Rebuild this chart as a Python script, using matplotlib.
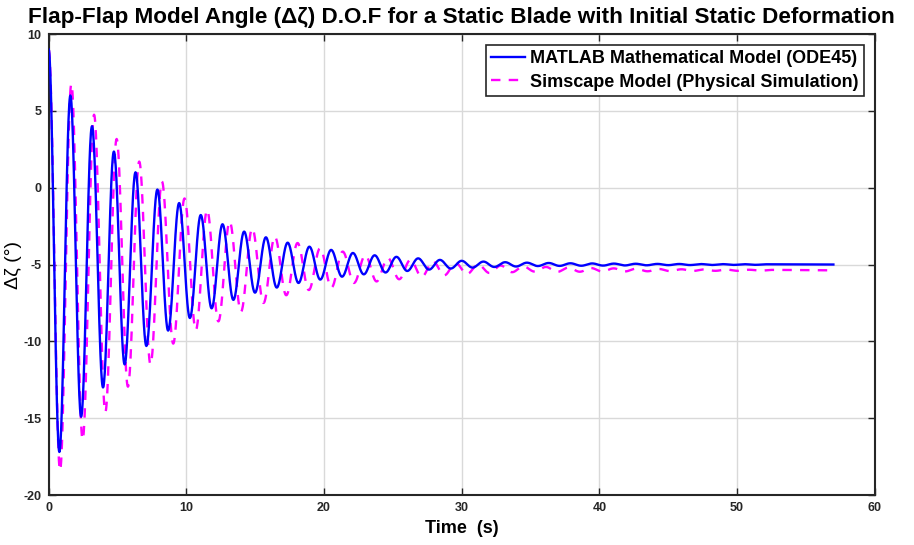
import numpy as np
import matplotlib
matplotlib.use("Agg")
import matplotlib.pyplot as plt

# ---- data: extrema (time s, angle deg) ----
matlab_t = [0.0, 0.78, 1.58, 2.36, 3.15, 3.95, 4.74, 5.52, 6.31, 7.10, 7.90, 8.68,
            9.48, 10.26, 11.05, 11.84, 12.63, 13.42, 14.20, 14.99, 15.78, 16.57,
            17.36, 18.15, 18.94, 19.73, 20.52, 21.31, 22.10, 22.89, 23.68, 24.47,
            25.26, 26.05, 26.84, 27.63, 28.42, 29.21, 30.00, 30.79, 31.58, 32.37,
            33.16, 33.95, 34.74, 35.53, 36.32, 37.11, 37.90, 38.69, 39.48, 40.27,
            41.06, 41.85, 42.64, 43.43, 44.22, 45.01, 45.80, 46.59, 47.38, 48.17,
            48.96, 49.75, 50.54, 51.33, 52.12, 57.0]
matlab_v = [9.0, -17.2, 6.0, -14.9, 4.0, -13.0, 2.35, -11.5, 1.0, -10.3, -0.12, -9.3,
            -1.0, -8.48, -1.78, -7.85, -2.38, -7.3, -2.86, -6.83, -3.23, -6.5,
            -3.58, -6.2, -3.84, -5.98, -4.05, -5.79, -4.25, -5.64, -4.40, -5.52,
            -4.50, -5.42, -4.60, -5.33, -4.70, -5.26, -4.76, -5.20, -4.81, -5.16,
            -4.85, -5.13, -4.88, -5.10, -4.90, -5.09, -4.92, -5.08, -4.93, -5.07,
            -4.94, -5.06, -4.95, -5.05, -4.96, -5.04, -4.965, -5.035, -4.97, -5.03,
            -4.975, -5.025, -4.98, -5.02, -4.985, -5.0]

simscape_t = [0.0, 0.83, 1.65, 2.47, 3.30, 4.12, 4.94, 5.76, 6.58, 7.40, 8.23, 9.05,
              9.87, 10.69, 11.51, 12.33, 13.15, 13.97, 14.79, 15.61, 16.43, 17.26,
              18.08, 18.90, 19.72, 20.54, 21.36, 22.18, 23.00, 23.82, 24.64, 25.46,
              26.28, 27.10, 27.92, 28.74, 29.56, 30.38, 31.20, 32.02, 32.84, 33.66,
              34.48, 35.30, 36.12, 36.94, 37.76, 38.58, 39.40, 40.22, 41.04, 41.86,
              42.68, 43.50, 44.32, 45.14, 45.96, 46.78, 47.60, 48.42, 49.24, 50.06,
              50.88, 51.70, 52.52, 57.0]
simscape_v = [9.0, -18.4, 6.75, -16.4, 4.75, -14.6, 3.17, -12.95, 1.7, -11.5, 0.4, -10.15,
              -0.7, -9.26, -1.45, -8.7, -2.2, -8.07, -2.65, -7.5, -3.19, -7.0,
              -3.6, -6.66, -3.94, -6.5, -4.16, -6.2, -4.4, -6.1, -4.58, -5.96,
              -4.7, -5.8, -4.8, -5.7, -4.9, -5.62, -5.0, -5.55, -5.07, -5.5,
              -5.12, -5.46, -5.16, -5.48, -5.2, -5.47, -5.23, -5.46, -5.25, -5.45,
              -5.27, -5.44, -5.29, -5.43, -5.31, -5.42, -5.32, -5.41, -5.33, -5.41,
              -5.34, -5.40, -5.35, -5.38]

labels = ["MATLAB Mathematical Model (ODE45)", "Simscape Model (Physical Simulation)"]
xticks = [0, 10, 20, 30, 40, 50, 60]
yticks = [-20, -15, -10, -5, 0, 5, 10]


def smooth_curve(t_ext, v_ext, n=30):
    """Join successive extrema with half-cosine segments."""
    ts, vs = [], []
    for i in range(len(t_ext) - 1):
        s = np.linspace(0, 1, n, endpoint=False)
        ts.append(t_ext[i] + (t_ext[i + 1] - t_ext[i]) * s)
        vs.append(v_ext[i] + (v_ext[i + 1] - v_ext[i]) * (1 - np.cos(np.pi * s)) / 2)
    ts.append([t_ext[-1]])
    vs.append([v_ext[-1]])
    return np.concatenate(ts), np.concatenate(vs)


fam = ["Liberation Sans", "DejaVu Sans"]
plt.rcParams["font.family"] = fam

fig = plt.figure(figsize=(9.14, 5.45), dpi=100)
ax = fig.add_axes([0.0532, 0.0917, 0.9038, 0.8459])

bt, bv = smooth_curve(matlab_t, matlab_v)
mt, mv = smooth_curve(simscape_t, simscape_v)
ax.plot(bt, bv, color="#0000ff", lw=1.7, label=labels[0], zorder=3)
ax.plot(mt, mv, color="#ff00ff", lw=1.7, ls=(0, (4, 3.5)), label=labels[1], zorder=2)

ax.set_xlim(0, 60)
ax.set_ylim(-20, 10)
ax.set_xticks(xticks)
ax.set_yticks(yticks)
ax.set_xticklabels([str(v) for v in xticks], fontweight="bold", fontsize=9)
ax.set_yticklabels([str(v) for v in yticks], fontweight="bold", fontsize=9)
ax.tick_params(direction="in", top=True, right=True, length=5, width=1.0,
               colors="#262626", pad=5)
ax.grid(True, color="#d9d9d9", lw=1.0)
for sp in ax.spines.values():
    sp.set_color("#262626")
    sp.set_linewidth(1.5)

ax.set_xlabel("Time  (s)", fontsize=13, fontweight="bold", labelpad=4)
ax.set_ylabel("Δζ (°)", fontsize=14, labelpad=1)
ax.set_title("Flap-Flap Model Angle (Δζ) D.O.F for a Static Blade with Initial Static Deformation",
             fontsize=16.2, fontweight="bold", pad=8)

leg = ax.legend(loc="upper right",
                prop={"family": fam, "weight": "bold", "size": 13},
                frameon=True, fancybox=False, edgecolor="#262626", framealpha=1,
                handlelength=1.9, handletextpad=0.25, borderpad=0.3, labelspacing=0.35,
                borderaxespad=0.6)
leg.get_frame().set_linewidth(1.2)

fig.savefig("out.png", dpi=100)
